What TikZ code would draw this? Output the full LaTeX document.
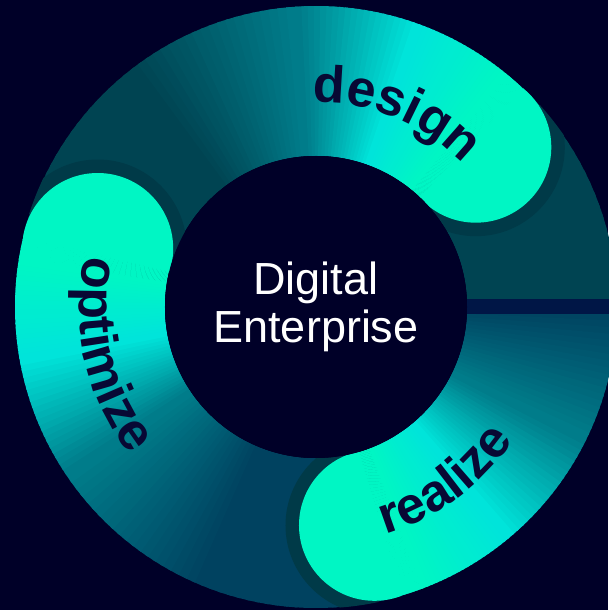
\documentclass[tikz,border=0pt]{standalone}
\usepackage{fontspec}
\setmainfont{Liberation Sans}
\usetikzlibrary{decorations.text}
\definecolor{nv}{RGB}{0,0,40}      % fond
\definecolor{rA}{RGB}{0,68,82}     % anneau sombre
\definecolor{rB}{RGB}{0,66,96}
\definecolor{tl}{RGB}{0,124,138}
\definecolor{cy}{RGB}{0,228,218}
\definecolor{gr}{RGB}{0,246,196}
\definecolor{sh}{RGB}{0,58,72}     % ombre des tetes
\definecolor{sb}{RGB}{0,22,70}
\definecolor{ink}{RGB}{8,8,52}
\newcommand{\lbl}{\fontsize{52}{52}\selectfont\bfseries}
% secteur d'anneau en degrade : angle depart, angle fin, couleur depart, couleur fin
\newcommand{\arcfade}[4]{%
  \foreach \k in {0,...,19}{%
    \pgfmathsetmacro\angA{(#1)+((#2)-(#1))*\k/20}%
    \pgfmathsetmacro\angB{(#1)+((#2)-(#1))*(\k+1.4)/20}%
    \pgfmathtruncatemacro\pc{100*\k/19}%
    \fill[#4!\pc!#3] (\angA:145) arc[start angle=\angA,end angle=\angB,radius=145]
      -- (\angB:301) arc[start angle=\angB,end angle=\angA,radius=301] -- cycle;}}
% tete arrondie avec son ombre
\newcommand{\headcap}[1]{%
  \begin{scope}
  \clip (0,0) circle[radius=301.5];
  \clip (0,0) -- ({#1-3}:400) -- ({#1-45}:400) -- ({#1-90}:400) -- cycle;
  \fill[sh] (#1:226) circle[radius=89];
  \end{scope}
  \begin{scope}
  \clip (0,0) -- ({#1+1.5}:400) -- ({#1-45}:400) -- ({#1-90}:400) -- cycle;
  \fill[gr] (#1:226) circle[radius=75.5];
  \end{scope}}

\begin{document}
\begin{tikzpicture}[x=1pt,y=1pt]
\useasboundingbox (-316,-303) rectangle (292,307);
\fill[nv] (-316,-303) rectangle (292,307);
% design
\arcfade{165}{128}{rA}{rA}
\arcfade{128}{94}{rA}{tl}
\arcfade{94}{70}{tl}{cy}
\arcfade{70}{51}{cy}{gr}
\arcfade{51}{45}{gr}{gr}
% realize
\arcfade{45}{0}{rA}{rA}
\arcfade{0}{-26}{rB}{tl}
\arcfade{-26}{-50}{tl}{cy}
\arcfade{-50}{-69}{cy}{gr}
\arcfade{-69}{-75}{gr}{gr}
% optimize
\arcfade{285}{248}{rB}{rB}
\arcfade{248}{214}{rB}{tl}
\arcfade{214}{190}{tl}{cy}
\arcfade{190}{171}{cy}{gr}
\arcfade{171}{165}{gr}{gr}
\fill[sb] (140,-7.5) rectangle (301,7.5);
\foreach \h in {45,-75,165} \headcap{\h}
\fill[nv] (0,0) circle[radius=151];
\node[text=white, align=center, inner sep=0pt, font=\fontsize{45}{48}\selectfont] (centre) at (0,0) {Digital\\Enterprise};
\path[decorate, decoration={text along path, text={|\lbl|design}, text align=center, text color=ink}]
  (107.5:205) arc[start angle=107.5,end angle=27.5,radius=205];
\path[decorate, decoration={text along path, text={|\lbl|optimize}, text align=center, text color=ink}]
  (150:237) arc[start angle=150,end angle=236,radius=237];
\path[decorate, decoration={text along path, text={|\lbl|realize}, text align=center, text color=ink}]
  (-100:238) arc[start angle=-100,end angle=-7,radius=238];
\end{tikzpicture}
\end{document}
